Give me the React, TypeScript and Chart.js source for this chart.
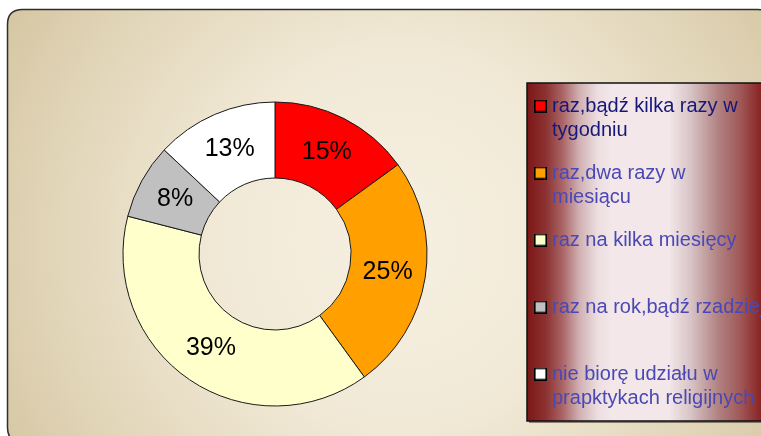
import React, { useEffect, useRef } from 'react';
import { Chart, registerables } from 'chart.js';

Chart.register(...registerables);

const categories: string[][] = [
  ['raz,bądź kilka razy w', 'tygodniu'],
  ['raz,dwa razy w', 'miesiącu'],
  ['raz na kilka miesięcy', ''],
  ['raz na rok,bądź rzadziej', ''],
  ['nie biorę udziału w', 'prapktykach religijnych'],
];
const values = [15, 25, 39, 8, 13];
const valueLabels = ['15%', '25%', '39%', '8%', '13%'];
const sliceColors = ['#ff0000', '#ffa000', '#ffffcc', '#c0c0c0', '#ffffff'];
const legendTextColors = ['#17177a', '#4a48b4', '#4a48b4', '#4a48b4', '#4a48b4'];

const FONT = '"Liberation Sans", Arial, sans-serif';

// legend panel shading: [fraction of panel width, rgb]
const panelShade: [number, number[]][] = [
  [0, [124, 22, 22]],
  [0.08, [140, 50, 50]],
  [0.15, [170, 100, 102]],
  [0.22, [208, 176, 178]],
  [0.3, [237, 223, 225]],
  [0.36, [243, 231, 233]],
  [0.6, [243, 231, 233]],
  [0.69, [216, 196, 198]],
  [0.81, [176, 128, 128]],
  [0.9, [160, 88, 88]],
  [1, [134, 28, 28]],
];

function shadeAt(f: number): string {
  for (let i = 0; i < panelShade.length - 1; i++) {
    const [f0, c0] = panelShade[i];
    const [f1, c1] = panelShade[i + 1];
    if (f >= f0 && f <= f1) {
      const t = (f - f0) / (f1 - f0);
      const c = c0.map((v, k) => Math.round(v + (c1[k] - v) * t));
      return `rgb(${c[0]},${c[1]},${c[2]})`;
    }
  }
  const c = panelShade[panelShade.length - 1][1];
  return `rgb(${c[0]},${c[1]},${c[2]})`;
}

function makeSwatch(color: string): HTMLCanvasElement {
  const c = document.createElement('canvas');
  c.width = 13;
  c.height = 13;
  const g = c.getContext('2d')!;
  g.fillStyle = color;
  g.fillRect(0, 0, 13, 13);
  g.strokeStyle = '#000';
  g.lineWidth = 1.6;
  g.strokeRect(0.8, 0.8, 11.4, 11.4);
  return c;
}

function roundRect(ctx: CanvasRenderingContext2D, x: number, y: number, w: number, h: number, r: number) {
  ctx.beginPath();
  ctx.moveTo(x + r, y);
  ctx.lineTo(x + w - r, y);
  ctx.quadraticCurveTo(x + w, y, x + w, y + r);
  ctx.lineTo(x + w, y + h - r);
  ctx.quadraticCurveTo(x + w, y + h, x + w - r, y + h);
  ctx.lineTo(x + r, y + h);
  ctx.quadraticCurveTo(x, y + h, x, y + h - r);
  ctx.lineTo(x, y + r);
  ctx.quadraticCurveTo(x, y, x + r, y);
  ctx.closePath();
}

const backgroundPlugin = {
  id: 'frameBackground',
  beforeDraw(chart: any) {
    const ctx: CanvasRenderingContext2D = chart.ctx;
    ctx.save();
    ctx.fillStyle = '#ffffff';
    ctx.fillRect(0, 0, chart.width, chart.height);

    // outer parchment frame
    roundRect(ctx, 7.5, 9.5, 765, 433, 15);
    const rg = ctx.createRadialGradient(400, 240, 0, 400, 240, 470);
    rg.addColorStop(0, '#f6f0e2');
    rg.addColorStop(0.4, '#f1e9d6');
    rg.addColorStop(0.75, '#e1d5b8');
    rg.addColorStop(1, '#d4c49f');
    ctx.fillStyle = rg;
    ctx.fill();
    ctx.lineWidth = 1.5;
    ctx.strokeStyle = '#2e2e2e';
    ctx.stroke();

    // legend panel (shaded column by column)
    const bx = 527, by = 83, bw = 237, bh = 338;
    ctx.fillStyle = 'rgba(60,50,40,0.55)';
    ctx.fillRect(bx + 2, by + 2, bw, bh);
    for (let x = 0; x < bw; x++) {
      ctx.fillStyle = shadeAt((x + 0.5) / bw);
      ctx.fillRect(bx + x, by, 1, bh);
    }
    ctx.lineWidth = 1.5;
    ctx.strokeStyle = '#111';
    ctx.strokeRect(bx, by, bw, bh);
    ctx.restore();
  },
};

const sliceLabelPlugin = {
  id: 'sliceLabels',
  afterDatasetsDraw(chart: any) {
    const ctx: CanvasRenderingContext2D = chart.ctx;
    const meta = chart.getDatasetMeta(0);
    ctx.save();
    ctx.font = `25px ${FONT}`;
    ctx.fillStyle = '#000';
    ctx.textAlign = 'center';
    ctx.textBaseline = 'middle';
    meta.data.forEach((arc: any, i: number) => {
      const p = arc.getCenterPoint();
      ctx.fillText(valueLabels[i], p.x, p.y);
    });
    ctx.restore();
  },
};

export default function App() {
  const ref = useRef<HTMLCanvasElement | null>(null);

  useEffect(() => {
    if (!ref.current) return;
    const swatches = sliceColors.map(makeSwatch);
    const chart = new Chart(ref.current, {
      type: 'doughnut',
      data: {
        labels: categories.map((c) => c.join(' ')),
        datasets: [
          {
            data: values,
            backgroundColor: sliceColors,
            borderColor: '#1a1a1a',
            borderWidth: 1,
            radius: 152,
            cutout: '50%',
          } as any,
        ],
      },
      options: {
        responsive: false,
        animation: false,
        devicePixelRatio: 1,
        events: [],
        rotation: 0,
        layout: { padding: { left: 30, right: 0, top: 76, bottom: 4 } },
        plugins: {
          tooltip: { enabled: false },
          legend: {
            position: 'right',
            align: 'center',
            maxWidth: 241,
            labels: {
              usePointStyle: true,
              pointStyleWidth: 3,
              padding: 19,
              font: { family: FONT, size: 20, lineHeight: 1.2 },
              generateLabels: () =>
                categories.map((c, i) => ({
                  text: c as any,
                  fillStyle: sliceColors[i],
                  strokeStyle: '#000',
                  lineWidth: 1,
                  pointStyle: swatches[i] as any,
                  fontColor: legendTextColors[i],
                  hidden: false,
                  index: i,
                })),
            },
          },
        },
      } as any,
      plugins: [backgroundPlugin, sliceLabelPlugin],
    });
    return () => chart.destroy();
  }, []);

  return (
    <div
      style={{
        position: 'fixed',
        left: 0,
        top: 0,
        width: 761,
        height: 436,
        overflow: 'hidden',
        background: '#fff',
      }}
    >
      <canvas ref={ref} width={761} height={436} style={{ display: 'block', width: 761, height: 436 }} />
    </div>
  );
}
